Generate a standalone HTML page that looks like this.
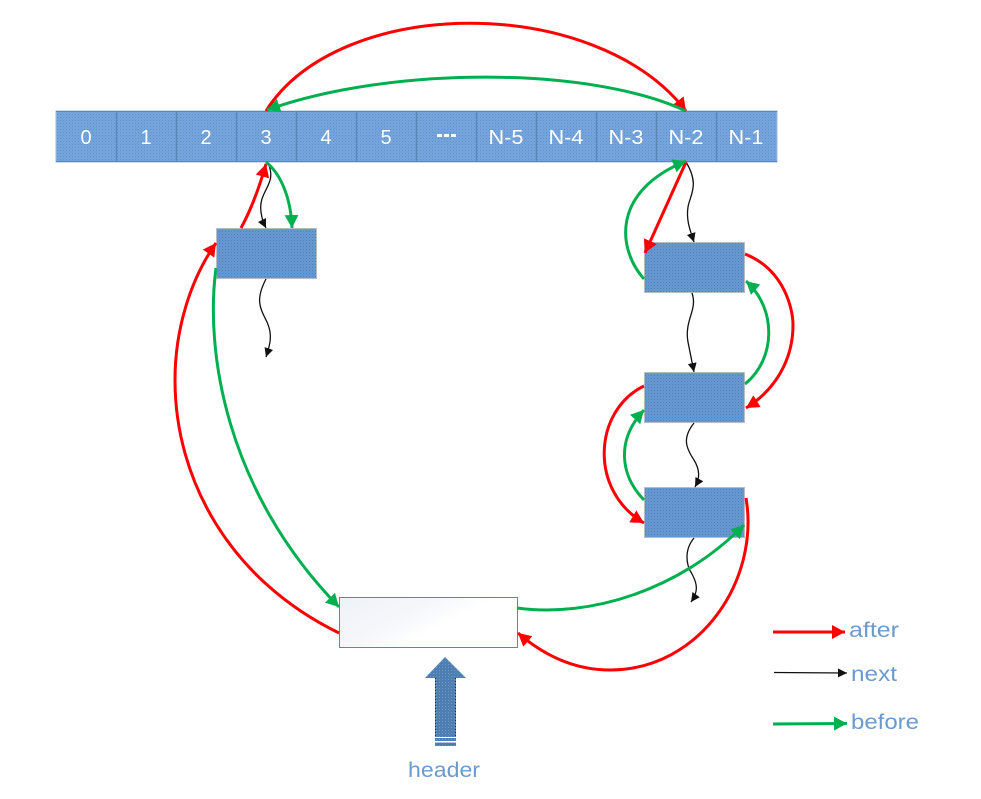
<!DOCTYPE html>
<html>
<head>
<meta charset="utf-8">
<style>
html,body{margin:0;padding:0;background:#fff;}
svg{display:block;}
text{font-family:"Liberation Sans",sans-serif;}
</style>
</head>
<body>
<svg width="981" height="799" viewBox="0 0 981 799" xmlns="http://www.w3.org/2000/svg">
<defs>
<pattern id="cell" width="3" height="3" patternUnits="userSpaceOnUse">
<rect width="3" height="3" fill="#74a5dc"/>
<rect x="0" y="0" width="1" height="1" fill="#5f8fc4"/>
<rect x="1.5" y="1.5" width="1" height="1" fill="#6a9ad0"/>
</pattern>
<pattern id="box" width="3" height="3" patternUnits="userSpaceOnUse">
<rect width="3" height="3" fill="#6898d2"/>
<rect x="0" y="0" width="1" height="1" fill="#5080b8"/>
<rect x="1.5" y="1.5" width="1" height="1" fill="#5c8cc4"/>
</pattern>
<pattern id="arr" width="3" height="3" patternUnits="userSpaceOnUse">
<rect width="3" height="3" fill="#4f7fb2"/>
<rect x="1" y="1" width="1" height="1" fill="#6e9ac8"/>
</pattern>
<linearGradient id="hdr" x1="0" y1="0" x2="1" y2="0.55">
<stop offset="0" stop-color="#eef2f8"/>
<stop offset="0.45" stop-color="#f5f7fb"/>
<stop offset="0.68" stop-color="#ffffff"/>
</linearGradient>
<marker id="r" markerUnits="userSpaceOnUse" markerWidth="16" markerHeight="16" refX="13" refY="7" orient="auto"><path d="M0 0L13 7L0 14Z" fill="#ff0000"/></marker>
<marker id="g" markerUnits="userSpaceOnUse" markerWidth="16" markerHeight="16" refX="13" refY="7" orient="auto"><path d="M0 0L13 7L0 14Z" fill="#00b050"/></marker>
<marker id="k" markerUnits="userSpaceOnUse" markerWidth="12" markerHeight="12" refX="9" refY="4.5" orient="auto"><path d="M0 0L9 4.5L0 9Z" fill="#111"/></marker>
</defs>

<!-- array -->
<rect x="56" y="111" width="721" height="51" fill="url(#cell)" stroke="#9dbde0" stroke-width="1"/>
<g stroke="#5a86b8" stroke-width="1.5">
<line x1="56" y1="111.5" x2="777" y2="111.5" stroke-width="1"/>
<line x1="56" y1="161.5" x2="777" y2="161.5" stroke-width="1"/>
<line x1="116.5" y1="111" x2="116.5" y2="162"/>
<line x1="176.5" y1="111" x2="176.5" y2="162"/>
<line x1="236.5" y1="111" x2="236.5" y2="162"/>
<line x1="296.5" y1="111" x2="296.5" y2="162"/>
<line x1="356.5" y1="111" x2="356.5" y2="162"/>
<line x1="416.5" y1="111" x2="416.5" y2="162"/>
<line x1="476.5" y1="111" x2="476.5" y2="162"/>
<line x1="536.5" y1="111" x2="536.5" y2="162"/>
<line x1="596.5" y1="111" x2="596.5" y2="162"/>
<line x1="656.5" y1="111" x2="656.5" y2="162"/>
<line x1="716.5" y1="111" x2="716.5" y2="162"/>
</g>
<g fill="#ffffff" font-size="20" text-anchor="middle">
<text x="86" y="144">0</text>
<text x="146" y="144">1</text>
<text x="206" y="144">2</text>
<text x="266" y="144">3</text>
<text x="326" y="144">4</text>
<text x="386" y="144">5</text>
<text x="506" y="144" textLength="35" lengthAdjust="spacingAndGlyphs">N-5</text>
<text x="566" y="144" textLength="35" lengthAdjust="spacingAndGlyphs">N-4</text>
<text x="626" y="144" textLength="35" lengthAdjust="spacingAndGlyphs">N-3</text>
<text x="686" y="144" textLength="35" lengthAdjust="spacingAndGlyphs">N-2</text>
<text x="746" y="144" textLength="35" lengthAdjust="spacingAndGlyphs">N-1</text>
</g>
<g fill="#ffffff">
<rect x="437" y="134" width="5" height="3"/>
<rect x="444" y="134" width="5" height="3"/>
<rect x="451" y="134" width="5" height="3"/>
</g>

<!-- nodes -->
<g fill="url(#box)" stroke="#b8bcc4" stroke-width="1">
<rect x="216.5" y="228.5" width="100" height="50"/>
<rect x="644.5" y="242.5" width="100" height="50"/>
<rect x="644.5" y="372.5" width="100" height="50"/>
<rect x="644.5" y="487.5" width="100" height="50"/>
</g>
<rect x="339.5" y="597.5" width="178" height="50" fill="url(#hdr)" stroke="#5a86b4" stroke-width="1"/>

<!-- black next -->
<g fill="none" stroke="#111" stroke-width="1.3" marker-end="url(#k)">
<path d="M268 163C278 185 258 190 261 212C262 220 264 224 266 228"/>
<path d="M266 279C255 300 260 308 267 322C273 335 270 345 266 357"/>
<path d="M686 162C700 185 690 195 688 207C686 220 690 230 694 242"/>
<path d="M692 293C698 310 684 320 688 342C690 352 692 362 694 372"/>
<path d="M694 423C682 438 686 448 694 460C700 470 700 478 695 487"/>
<path d="M694 538C684 550 686 565 692 574C698 585 698 592 691 602"/>
</g>

<!-- red after -->
<g fill="none" stroke="#ff0000" stroke-width="3" marker-end="url(#r)">
<path d="M266 111C340 -6 596 -6 686 111"/>
<path d="M339 633C230 580 175 480 175 380C175 330 190 280 216 243"/>
<path d="M241 228C252 208 260 185 266 164"/>
<path d="M686 162L645 253"/>
<path d="M745 254C785 270 793 310 793 325C793 360 775 390 746 408"/>
<path d="M644 386C594 410 588 490 644 523"/>
<path d="M746 498C760 580 700 670 610 670C570 670 540 652 518 633"/>
</g>

<!-- green before -->
<g fill="none" stroke="#00b050" stroke-width="3" marker-end="url(#g)">
<path d="M686 111C590 66 390 66 267 110"/>
<path d="M216 268C205 350 225 490 339 607"/>
<path d="M266 162C282 175 291 200 292 228"/>
<path d="M644 279C618 250 610 192 686 161"/>
<path d="M745 384C775 360 778 310 746 281"/>
<path d="M644 500C620 475 616 440 644 410"/>
<path d="M517 608C590 618 680 590 744 525"/>
</g>

<!-- header arrow -->
<path d="M445 657L466 678L456 678L456 746L435 746L435 678L425 678Z" fill="url(#arr)"/>
<rect x="435" y="737" width="21" height="1" fill="#ffffff"/>
<rect x="435" y="741" width="21" height="1.5" fill="#ffffff"/>
<line x1="435.5" y1="678" x2="435.5" y2="737" stroke="#1a2c44" stroke-width="1" stroke-dasharray="1 2"/>
<line x1="455.5" y1="678" x2="455.5" y2="737" stroke="#1a2c44" stroke-width="1" stroke-dasharray="1 2"/>
<text x="408" y="777" font-size="21" fill="#6a9bd0" textLength="72" lengthAdjust="spacingAndGlyphs">header</text>

<!-- legend -->
<line x1="773" y1="632" x2="845" y2="632" stroke="#ff0000" stroke-width="3" marker-end="url(#r)"/>
<line x1="774" y1="672.5" x2="847" y2="673" stroke="#111" stroke-width="1.3" marker-end="url(#k)"/>
<line x1="773" y1="724" x2="847" y2="723.5" stroke="#00b050" stroke-width="3" marker-end="url(#g)"/>
<g fill="#6a9bd0" font-size="21">
<text x="849" y="637" textLength="50" lengthAdjust="spacingAndGlyphs">after</text>
<text x="851" y="681" textLength="46" lengthAdjust="spacingAndGlyphs">next</text>
<text x="851" y="729" textLength="68" lengthAdjust="spacingAndGlyphs">before</text>
</g>
</svg>
</body>
</html>
